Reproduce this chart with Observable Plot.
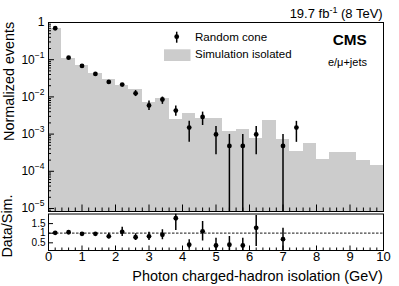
<!DOCTYPE html>
<html><head><meta charset="utf-8">
<script src="https://cdn.jsdelivr.net/npm/d3@7"></script>
<script src="https://cdn.jsdelivr.net/npm/@observablehq/plot@0.6"></script>
<style>
body{margin:0;background:#fff;}
#chart{position:relative;width:399px;height:286px;font-family:"Liberation Sans",Arial,sans-serif;}
#chart svg{position:absolute;left:0;background:transparent;overflow:visible;font-family:"Liberation Sans",Arial,sans-serif;}
</style></head><body><div id="chart"></div>
<script>
// ---- data ----
const binLow  = [0,0.4,0.8,1.2,1.6,2.0,2.4,2.8,3.2,3.6,4.0,4.4,4.8,5.2,5.6,6.0,6.4,6.8,7.2,7.6,8.0,8.4,8.8,9.2,9.6];
const binHigh = [0.4,0.8,1.2,1.6,2.0,2.4,2.8,3.2,3.6,4.0,4.4,4.8,5.2,5.6,6.0,6.4,6.8,7.2,7.6,8.0,8.4,8.8,9.2,9.6,10];
const simValues = [0.69,0.107,0.071,0.043,0.030,0.020,0.0155,0.0069,0.0093,0.0024,0.0035,0.0026,0.0026,0.00115,0.0013,0.00075,0.0023,0.00071,0.00034,0.00055,0.00021,0.00033,0.00033,0.00019,0.00014];

const dataX  = [0.2,0.6,1.0,1.4,1.8,2.2,2.6,3.0,3.4,3.8,4.2,4.6,5.0,5.4,5.8,6.2,7.0,7.4];
const dataY  = [0.70,0.113,0.068,0.0415,0.0253,0.0215,0.0125,0.0059,0.0085,0.0043,0.0015,0.0029,0.00098,0.00048,0.00048,0.00098,0.00048,0.0015];
const dataLo = [0.69,0.111,0.066,0.040,0.0243,0.0203,0.0102,0.0043,0.0063,0.0030,0.0006,0.0017,0.00028,0,0,0.00028,0,0.0006];
const dataHi = [0.71,0.115,0.070,0.043,0.0263,0.0227,0.0148,0.0077,0.0099,0.0057,0.0022,0.0039,0.0016,0.00098,0.00098,0.0016,0.00098,0.0022];

const ratioX  = [0.2,0.6,1.0,1.4,1.8,2.2,2.6,3.0,3.4,3.8,4.2,4.6,5.0,5.4,5.8,6.2,7.0];
const ratioY  = [1.02,1.05,0.97,0.97,0.84,1.07,0.79,0.84,0.92,1.78,0.40,1.10,0.36,0.40,0.36,1.28,0.69];
const ratioLo = [0.99,1.02,0.94,0.94,0.71,0.83,0.62,0.62,0.66,1.14,0.19,0.59,0.05,0,0,0.31,0];
const ratioHi = [1.05,1.08,1.00,1.00,1.00,1.31,0.97,1.05,1.18,2.00,0.66,1.61,0.74,0.83,0.74,1.92,1.26];

const xTickValues = [0,1,2,3,4,5,6,7,8,9,10];
const xTickLabels = ["0","1","2","3","4","5","6","7","8","9","10"];
const yDecades = [1e-5,1e-4,1e-3,1e-2,1e-1,1];
const yDecadeLabels = ["10^\u22125","10^\u22124","10^\u22123","10^\u22122","10^\u22121","1"];
const ratioTicks = [0.5,1,1.5];
const ratioTickLabels = ["0.5","1","1.5"];

// ---- build tables ----
const sim = binLow.map((lo,i)=>({x1:lo,x2:binHigh[i],v:simValues[i]}));
const pts = dataX.map((x,i)=>({x,y:dataY[i],lo:dataLo[i],hi:dataHi[i]}));
const rpts = ratioX.map((x,i)=>({x,y:ratioY[i],lo:ratioLo[i],hi:ratioHi[i]}));

const W = 399, ML = 48, MR = 16;
const FW = W - ML - MR;
const yMin = 8.3e-6, yMax = 1;
const rMin = 0.1, rMax = 2.0;
const mainTop = 22, mainH = 212, mainMB = 1;
const mainFH = mainH - mainTop - mainMB;

const minorX = [];
for (let v = 0; v <= 10.0001; v += 0.2) { const r = Math.round(v*10)/10; if (Math.abs(r - Math.round(r)) > 1e-6) minorX.push(r); }
const minorY = [];
for (const d of [1e-6,1e-5,1e-4,1e-3,1e-2,1e-1]) for (let k=2;k<=9;k++){const v=k*d; if (v>=yMin && v<=yMax) minorY.push(v);}

const FONT = "Liberation Sans, Arial, sans-serif";

const main = Plot.plot({
  width: W, height: mainH, marginLeft: ML, marginRight: MR, marginTop: mainTop, marginBottom: mainMB,
  style: {background: "transparent", fontFamily: FONT},
  x: {domain: [0,10], axis: null},
  y: {type: "log", domain: [yMin, yMax], axis: null},
  marks: [
    Plot.rect(sim, {x1: "x1", x2: "x2", y1: () => yMin, y2: "v", fill: "#cccccc", inset: 0, shapeRendering: "crispEdges"}),
    Plot.ruleX(pts, {x: "x", y1: d => Math.max(d.lo, yMin), y2: "hi", stroke: "black", strokeWidth: 1.5, clip: true}),
    Plot.dot(pts, {x: "x", y: "y", r: 2.4, fill: "black", stroke: "none"}),
    Plot.ruleY(yDecades, {y: d => d, insetRight: FW - 6, stroke: "black"}),
    Plot.ruleY(minorY, {y: d => d, insetRight: FW - 3, stroke: "black"}),
    Plot.ruleX(xTickValues, {x: d => d, insetTop: mainFH - 6.5, stroke: "black"}),
    Plot.ruleX(minorX, {x: d => d, insetTop: mainFH - 3.5, stroke: "black"}),
    Plot.text(yDecades, {y: d => d, frameAnchor: "left", textAnchor: "end", dx: -4, text: (d,i) => yDecadeLabels[i], fontSize: 12, fill: "black"}),
    Plot.frame({stroke: "black", strokeWidth: 1})
  ]
});

const ratioTopPx = 211, ratioH = 75, rMT = 2.5, rMB = 36;
const ratioFH = ratioH - rMT - rMB;
const ratio = Plot.plot({
  width: W, height: ratioH, marginLeft: ML, marginRight: MR, marginTop: rMT, marginBottom: rMB,
  style: {background: "transparent", fontFamily: FONT},
  x: {domain: [0,10], axis: null},
  y: {domain: [rMin, rMax], axis: null},
  marks: [
    Plot.ruleY([1], {stroke: "#444", strokeWidth: 1.3, strokeDasharray: "2.5,1.5"}),
    Plot.ruleX(rpts, {x: "x", y1: d => Math.max(d.lo, rMin), y2: d => Math.min(d.hi, rMax), stroke: "black", strokeWidth: 1.5, clip: true}),
    Plot.dot(rpts, {x: "x", y: "y", r: 2.4, fill: "black", stroke: "none"}),
    Plot.ruleY(ratioTicks, {y: d => d, insetRight: FW - 5, stroke: "black"}),
    Plot.ruleX(xTickValues, {x: d => d, insetTop: ratioFH - 4.5, stroke: "black"}),
    Plot.ruleX(minorX, {x: d => d, insetTop: ratioFH - 2.5, stroke: "black"}),
    Plot.text(ratioTicks, {y: d => d, frameAnchor: "left", textAnchor: "end", dx: -3, text: (d,i) => ratioTickLabels[i], fontSize: 10, fill: "black"}),
    Plot.text(xTickValues, {x: d => d, frameAnchor: "bottom", dy: 10.5, text: (d,i) => xTickLabels[i], fontSize: 13, fill: "black"}),
    Plot.frame({stroke: "black", strokeWidth: 1})
  ]
});

const chart = document.getElementById("chart");
main.style.top = "0px";
ratio.style.top = ratioTopPx + "px";
chart.appendChild(main);
chart.appendChild(ratio);

// superscripts in tick labels
d3.select(main).selectAll("text").each(function() {
  const t = this.textContent;
  if (t.includes("^")) {
    const [base, sup] = t.split("^");
    const sel = d3.select(this);
    sel.text(null);
    sel.append("tspan").text(base);
    sel.append("tspan").attr("dy", "-6px").attr("font-size", "8.5px").text(sup);
  }
});

// annotations
const ms = d3.select(main);
function txt(svg, x, y, s, o = {}) {
  const t = svg.append("text").attr("x", x).attr("y", y).attr("dy", "0.33em")
    .attr("font-family", FONT).attr("font-size", (o.size||12) + "px")
    .attr("text-anchor", o.anchor || "start").attr("fill", "black").text(s);
  if (o.weight) t.attr("font-weight", o.weight);
  return t;
}
// lumi
const lumi = ms.append("text").attr("x", 382.7).attr("y", 18.3)
  .attr("font-family", FONT).attr("font-size", "13px").attr("text-anchor", "end");
lumi.append("tspan").text("19.7 fb");
lumi.append("tspan").attr("dy", "-5px").attr("font-size", "9px").text("-1");
lumi.append("tspan").attr("dy", "5px").text(" (8 TeV)");
txt(ms, 366.7, 39.5, "CMS", {size: 15.3, weight: "bold", anchor: "end"});
txt(ms, 367, 62.5, "e/\u03bc+jets", {size: 11, anchor: "end"});
// legend
ms.append("line").attr("x1", 176.7).attr("x2", 176.7).attr("y1", 31.7).attr("y2", 42.7).attr("stroke", "black").attr("stroke-width", 1.5);
ms.append("circle").attr("cx", 176.7).attr("cy", 36.7).attr("r", 2.4).attr("fill", "black");
ms.append("rect").attr("x", 164).attr("y", 49.3).attr("width", 26.5).attr("height", 11.7).attr("fill", "#cccccc");
txt(ms, 195, 36.7, "Random cone", {size: 11.6});
txt(ms, 195, 54.5, "Simulation isolated", {size: 11.5});
// axis titles
ms.append("text").attr("transform", "translate(13.5,21.7) rotate(-90)")
  .attr("text-anchor", "end").attr("font-family", FONT).attr("font-size", "14.4px").text("Normalized events");
const rs = d3.select(ratio);
rs.append("text").attr("transform", `translate(11.5,${226 - ratioTopPx}) rotate(-90)`)
  .attr("text-anchor", "middle").attr("font-family", FONT).attr("font-size", "14.4px").text("Data/Sim.");
txt(rs, 382.7, 276 - ratioTopPx, "Photon charged-hadron isolation (GeV)", {size: 14.4, anchor: "end"});
</script></body></html>
